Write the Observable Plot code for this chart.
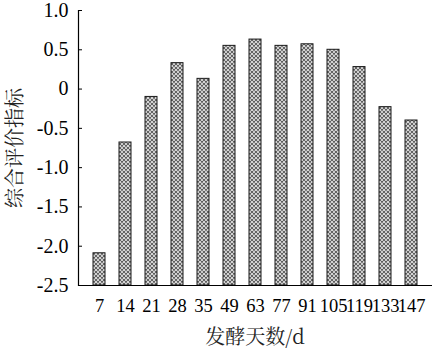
<!DOCTYPE html>
<html>
<head>
<meta charset="utf-8">
<script src="https://cdn.jsdelivr.net/npm/d3@7"></script>
<script src="https://cdn.jsdelivr.net/npm/@observablehq/plot@0.6"></script>
<style>
  html, body { margin: 0; padding: 0; background: #fff; }
  #chart svg { display: block; }
  #chart svg text { font-family: "Liberation Serif", "Times New Roman" !important; }
  #chart svg text.cjk { font-family: "Noto Serif CJK SC", "Noto Sans CJK SC" !important; }
</style>
</head>
<body>
<div id="chart"></div>
<script>
const days = ["7", "14", "21", "28", "35", "49", "63", "77", "91", "105", "119", "133", "147"];
const values = [-2.09, -0.68, -0.10, 0.33, 0.13, 0.55, 0.63, 0.55, 0.57, 0.50, 0.28, -0.23, -0.40];
const yTicks = [-2.5, -2.0, -1.5, -1.0, -0.5, 0, 0.5, 1.0];
const xLabel = "发酵天数/d";
const yLabel = "综合评价指标";

const data = days.map((d, i) => ({day: d, value: values[i]}));

const chart = Plot.plot({
  width: 442,
  height: 351,
  marginLeft: 78,
  marginRight: 10,
  marginTop: 10,
  marginBottom: 66,
  style: {fontFamily: "Liberation Serif", fontSize: "18px", color: "#000", background: "#fff"},
  x: {domain: days, padding: 0.52, align: 0.5},
  y: {domain: [-2.5, 1.0]},
  marks: [
    Plot.barY(data, {x: "day", y1: -2.5, y2: "value", fill: "url(#hatch)", stroke: "#1a1a1a", strokeWidth: 1}),
    Plot.frame({anchor: "left", stroke: "#000", strokeWidth: 1.2}),
    Plot.ruleY([-2.5], {stroke: "#000", strokeWidth: 1.2}),
    Plot.axisY({ticks: yTicks, tickSize: 0, tickPadding: 10, tickFormat: d => d === 0 ? "0" : d.toFixed(1), label: null, fontSize: 20, fill: "#000"}),
    Plot.axisY({ticks: yTicks, tickSize: -4, tickFormat: () => "", label: null, stroke: "#000"}),
    Plot.axisX({tickSize: 0, tickPadding: 13, label: null, fontSize: 18.5, fill: "#000"}),
  ]
});

const svg = d3.select(chart);
const defs = svg.insert("defs", ":first-child");
const pat = defs.append("pattern").attr("id", "hatch").attr("width", 4).attr("height", 4).attr("patternUnits", "userSpaceOnUse");
pat.append("rect").attr("width", 4).attr("height", 4).attr("fill", "#fff");
pat.append("path").attr("d", "M0,0L4,4M4,0L0,4M-1,1L1,-1M3,5L5,3").attr("stroke", "#5e5e5e").attr("stroke-width", 1.15);

// axis titles
svg.append("text").attr("class", "cjk")
  .attr("x", (78 + 432) / 2).attr("y", 344)
  .attr("text-anchor", "middle")
  .attr("font-size", 20).attr("fill", "#222")
  .text(xLabel);
svg.append("text").attr("class", "cjk")
  .attr("transform", `translate(22,148) rotate(-90)`)
  .attr("text-anchor", "middle")
  .attr("font-size", 20).attr("fill", "#222")
  .text(yLabel);

document.getElementById("chart").append(chart);
</script>
</body>
</html>
